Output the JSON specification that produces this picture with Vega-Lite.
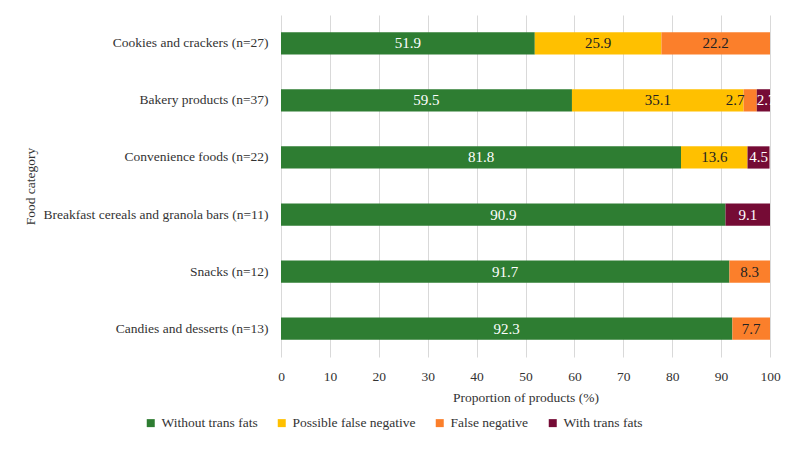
{
  "$schema": "https://vega.github.io/schema/vega-lite/v6.json",
  "width": 489,
  "height": 342,
  "autosize": {"type": "none"},
  "padding": {"left": 281, "top": 15, "right": 28, "bottom": 92},
  "background": "white",
  "config": {
    "view": {"stroke": null},
    "font": "Liberation Serif",
    "axis": {"labelFont": "Liberation Serif", "titleFont": "Liberation Serif", "titleFontWeight": "normal", "labelColor": "#333", "titleColor": "#333"},
    "legend": {"labelFont": "Liberation Serif"}
  },
  "data": {
    "values": [
      {"category": "Cookies and crackers (n=27)", "series": "Without trans fats", "k": 1, "value": 51.9},
      {"category": "Cookies and crackers (n=27)", "series": "Possible false negative", "k": 2, "value": 25.9},
      {"category": "Cookies and crackers (n=27)", "series": "False negative", "k": 3, "value": 22.2},
      {"category": "Bakery products (n=37)", "series": "Without trans fats", "k": 1, "value": 59.5},
      {"category": "Bakery products (n=37)", "series": "Possible false negative", "k": 2, "value": 35.1},
      {"category": "Bakery products (n=37)", "series": "False negative", "k": 3, "value": 2.7},
      {"category": "Bakery products (n=37)", "series": "With trans fats", "k": 4, "value": 2.7},
      {"category": "Convenience foods (n=22)", "series": "Without trans fats", "k": 1, "value": 81.8},
      {"category": "Convenience foods (n=22)", "series": "Possible false negative", "k": 2, "value": 13.6},
      {"category": "Convenience foods (n=22)", "series": "With trans fats", "k": 4, "value": 4.5},
      {"category": "Breakfast cereals and granola bars (n=11)", "series": "Without trans fats", "k": 1, "value": 90.9},
      {"category": "Breakfast cereals and granola bars (n=11)", "series": "With trans fats", "k": 4, "value": 9.1},
      {"category": "Snacks (n=12)", "series": "Without trans fats", "k": 1, "value": 91.7},
      {"category": "Snacks (n=12)", "series": "False negative", "k": 3, "value": 8.3},
      {"category": "Candies and desserts (n=13)", "series": "Without trans fats", "k": 1, "value": 92.3},
      {"category": "Candies and desserts (n=13)", "series": "False negative", "k": 3, "value": 7.7}
    ]
  },
  "transform": [
    {"stack": "value", "groupby": ["category"], "sort": [{"field": "k"}], "as": ["x0", "x1"]},
    {"calculate": "(datum.x0 + datum.x1) / 2", "as": "mid"}
  ],
  "encoding": {
    "y": {
      "field": "category",
      "type": "nominal",
      "sort": ["Cookies and crackers (n=27)", "Bakery products (n=37)", "Convenience foods (n=22)", "Breakfast cereals and granola bars (n=11)", "Snacks (n=12)", "Candies and desserts (n=13)"],
      "scale": {"paddingInner": 0.61, "paddingOuter": 0.3},
      "axis": {"title": "Food category", "titleFontSize": 13.5, "titleX": -251, "titleY": 171, "titleAngle": -90, "titleAlign": "center", "titleBaseline": "middle", "labelFontSize": 13.5, "labelPadding": 13, "ticks": false, "domain": false, "labelLimit": 300}
    }
  },
  "layer": [
    {
      "mark": {"type": "bar"},
      "encoding": {
        "x": {
          "field": "x0",
          "type": "quantitative",
          "scale": {"domain": [0, 100]},
          "axis": {"title": "Proportion of products (%)", "titleFontSize": 13.5, "titlePadding": 8, "labelFontSize": 13.5, "labelPadding": 12, "labelOverlap": false, "labelFlush": false, "values": [0,10,20,30,40,50,60,70,80,90,100], "grid": true, "gridColor": "#d9d9d9", "domain": false, "ticks": false}
        },
        "x2": {"field": "x1"},
        "color": {
          "field": "series",
          "type": "nominal",
          "scale": {
            "domain": ["Without trans fats", "Possible false negative", "False negative", "With trans fats"],
            "range": ["#2E7D32", "#FFC000", "#FB7F2B", "#750B35"]
          },
          "legend": {
            "title": null,
            "orient": "none",
            "legendX": -137,
            "legendY": 401,
            "direction": "horizontal",
            "symbolType": "square",
            "symbolSize": 64,
            "symbolStrokeWidth": 0,
            "labelFontSize": 13.5,
            "labelColor": "#333",
            "columnPadding": 17
          }
        }
      }
    },
    {
      "transform": [{"filter": "datum.value >= 4"}],
      "mark": {"type": "text", "fontSize": 15, "align": "center", "baseline": "middle"},
      "encoding": {
        "x": {"field": "mid", "type": "quantitative"},
        "text": {"field": "value", "type": "quantitative", "format": ".1f"},
        "color": {
          "condition": {"test": "datum.series === 'Without trans fats' || datum.series === 'With trans fats'", "value": "white"},
          "value": "#222"
        }
      }
    },
    {
      "transform": [{"filter": "datum.value < 4 && datum.k === 3"}],
      "mark": {"type": "text", "fontSize": 15, "align": "right", "baseline": "middle", "dx": 1, "color": "#222"},
      "encoding": {
        "x": {"field": "x0", "type": "quantitative"},
        "text": {"field": "value", "type": "quantitative", "format": ".1f"}
      }
    },
    {
      "transform": [{"filter": "datum.value < 4 && datum.k === 4"}],
      "mark": {"type": "text", "fontSize": 15, "align": "left", "baseline": "middle", "dx": 0, "color": "white"},
      "encoding": {
        "x": {"field": "x0", "type": "quantitative"},
        "text": {"field": "value", "type": "quantitative", "format": ".1f"}
      }
    }
  ]
}
